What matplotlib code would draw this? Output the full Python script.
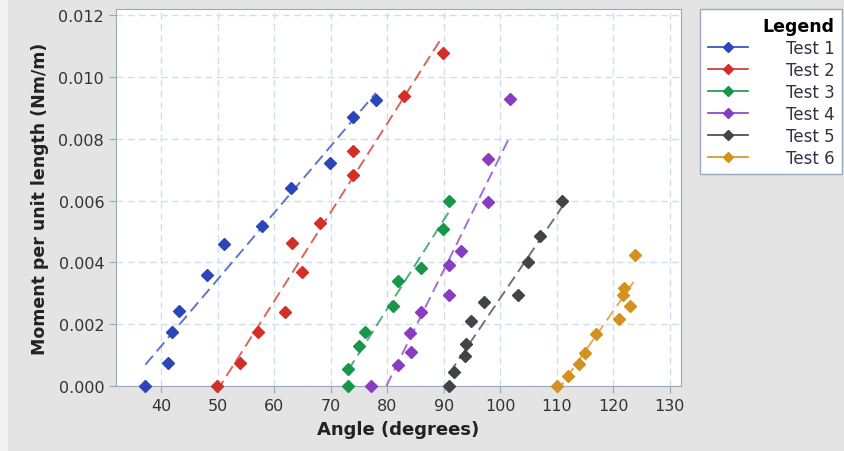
import matplotlib
matplotlib.use("Agg")
import matplotlib.pyplot as plt
from matplotlib.lines import Line2D
from matplotlib.patches import Rectangle
import numpy as np

plt.rcParams['font.family'] = ['DejaVu Sans']

# angle (deg) and moment per unit length (Nm/m)
t1_x = [37.2, 41.2, 41.9, 43.1, 48.1, 51.1, 57.9, 63.0, 69.9, 74.0, 78.0]
t1_y = [0.0, 0.00076, 0.00174, 0.00242, 0.00359, 0.0046, 0.00518, 0.00641, 0.00722, 0.0087, 0.00927]
t2_x = [49.9, 53.9, 57.2, 61.9, 63.1, 65.0, 68.1, 74.0, 73.9, 82.9, 89.8]
t2_y = [0.0, 0.00076, 0.00174, 0.00238, 0.00464, 0.0037, 0.00528, 0.00683, 0.00762, 0.0094, 0.01078]
t3_x = [73.1, 73.1, 75.0, 76.1, 81.1, 81.9, 86.0, 89.8, 91.0]
t3_y = [0.0, 0.00056, 0.00129, 0.00176, 0.00259, 0.0034, 0.00381, 0.00508, 0.006]
t4_x = [77.1, 81.9, 84.2, 84.1, 86.0, 91.0, 91.0, 93.0, 97.9, 97.9, 101.8]
t4_y = [0.0, 0.00068, 0.00111, 0.0017, 0.0024, 0.00294, 0.00391, 0.00438, 0.00595, 0.00733, 0.0093]
t5_x = [91.0, 91.9, 93.8, 94.0, 94.8, 97.2, 103.2, 105.0, 107.0, 110.9]
t5_y = [0.0, 0.00045, 0.00097, 0.00137, 0.0021, 0.00272, 0.00295, 0.004, 0.00484, 0.00598]
t6_x = [110.0, 112.0, 113.9, 115.0, 117.0, 121.1, 123.0, 121.8, 121.9, 123.9]
t6_y = [0.0, 0.00032, 0.00072, 0.00108, 0.00167, 0.00216, 0.00259, 0.00295, 0.00317, 0.00424]

labels = ["Test 1", "Test 2", "Test 3", "Test 4", "Test 5", "Test 6"]
colors = ["#2c46b8", "#d12f28", "#17964a", "#8a3cc0", "#404448", "#d4911f"]
xs = [t1_x, t2_x, t3_x, t4_x, t5_x, t6_x]
ys = [t1_y, t2_y, t3_y, t4_y, t5_y, t6_y]

fig = plt.figure(figsize=(8.44, 4.52), dpi=100)
fig.patch.set_facecolor("#e4e4e4")
fig.patches.append(Rectangle((0, 0), 8 / 844, 1, transform=fig.transFigure,
                             facecolor="#f2f2f2", edgecolor="none", zorder=-1))
ax = fig.add_axes([116 / 844, 1 - 387 / 452, (681 - 116) / 844, (387 - 10) / 452])

for x, y, c in zip(xs, ys, colors):
    x = np.array(x)
    y = np.array(y)
    k, b = np.polyfit(x, y, 1)
    xf = np.array([x.min(), x.max()])
    ax.plot(xf, k * xf + b, "--", color=c, alpha=0.75, lw=1.4, dashes=(6, 3), zorder=2)
    ax.plot(x, y, "D", color=c, ms=6, mec=c, zorder=3, clip_on=False)

ax.set_xlim(32, 132)
ax.set_ylim(0, 0.0122)
ax.set_xticks(np.arange(40, 131, 10))
ax.set_yticks(np.arange(0, 0.0121, 0.002))
ax.set_yticklabels(["%.3f" % v for v in np.arange(0, 0.0121, 0.002)])
ax.grid(True, color="#cfe0ee", ls=(0, (5, 3)), lw=1)
ax.set_axisbelow(True)
for s in ax.spines.values():
    s.set_color("#9aaabb")
ax.tick_params(colors="#9aaabb", labelcolor="#333333", labelsize=11.5, length=5)

ax.set_xlabel("Angle (degrees)", fontsize=13, fontweight="bold", color="#222222", labelpad=5)
ax.set_ylabel("Moment per unit length (Nm/m)", fontsize=12.5, fontweight="bold", color="#222222", labelpad=7)

handles = [Line2D([], [], color=c, marker="D", ms=5, lw=1.2) for c in colors]
leg = fig.legend(handles, labels, loc="upper left", bbox_to_anchor=(700 / 844, 1 - 10 / 452),
                 title="Legend", title_fontproperties={"weight": "bold", "size": 12.5},
                 alignment="right", fontsize=12, frameon=True, fancybox=False,
                 borderpad=0.45, labelspacing=0.24, handlelength=2.4, handletextpad=2.3,
                 borderaxespad=0)
leg.get_frame().set_edgecolor("#9aaabb")
leg.get_frame().set_facecolor("white")
leg.get_frame().set_alpha(1)
for t in leg.get_texts():
    t.set_color("#333344")

fig.savefig("out.png", dpi=100, facecolor=fig.get_facecolor())
